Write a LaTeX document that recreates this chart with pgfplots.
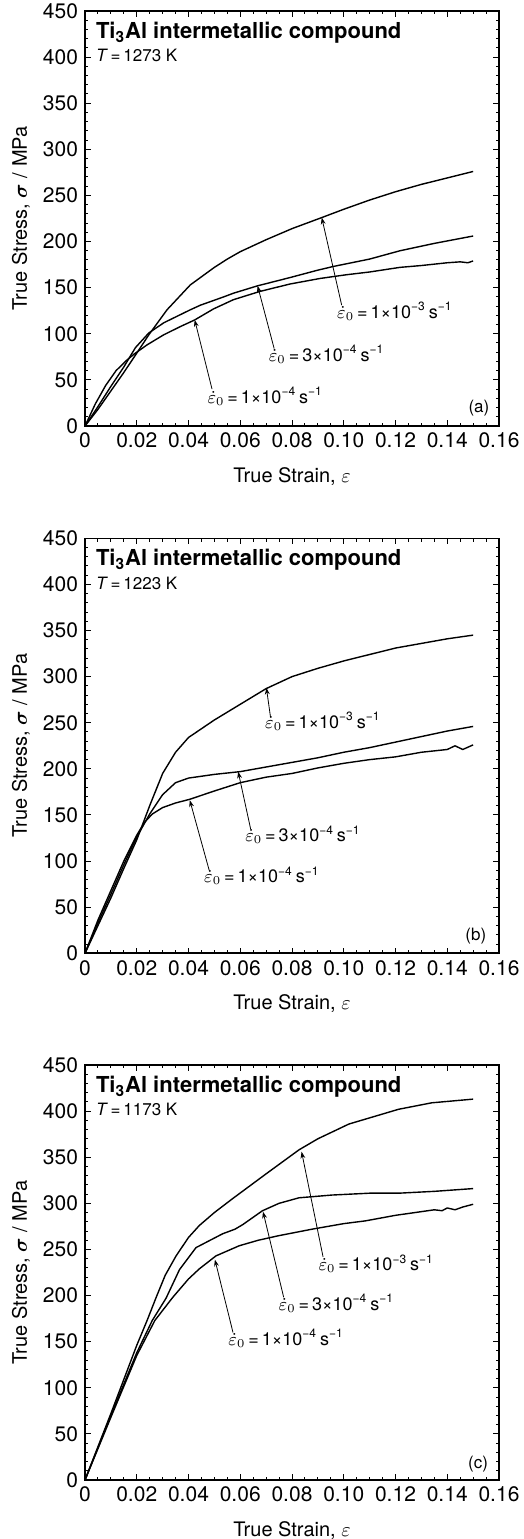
\documentclass[border=0pt]{standalone}
\usepackage{fontspec}
\setmainfont{TeX Gyre Heros}
\usepackage{amsmath}
\usepackage{pgfplots}
\pgfplotsset{compat=1.18}
\usetikzlibrary{arrows.meta}

\newcommand{\rate}[2]{$\dot{\varepsilon}_0$\,=\,#1×10\textsuperscript{−#2}\,s\textsuperscript{−1}}
\pgfplotsset{
  tsplot/.style={
    scale only axis, width=207pt, height=207.5pt, anchor=south west,
    xmin=0, xmax=0.16, ymin=0, ymax=450, clip=false,
    xtick={0,0.02,0.04,0.06,0.08,0.10,0.12,0.14,0.16},
    xticklabels={0,0.02,0.04,0.06,0.08,0.10,0.12,0.14,0.16},
    ytick={0,50,100,150,200,250,300,350,400,450},
    minor x tick num=3, minor y tick num=4,
    tick align=inside, major tick length=2.8pt, minor tick length=1.6pt,
    axis line style={line width=0.8pt},
    every tick/.style={black, line width=0.5pt},
    tick label style={font=\fontsize{10.5}{12}\selectfont},
    /pgf/number format/assume math mode=true,
    xlabel={True Strain, $\varepsilon$},
    ylabel={True Stress, $\boldsymbol{\sigma}$ / MPa},
    label style={font=\fontsize{10.5}{12}\selectfont},
    every axis x label/.style={at={(axis description cs:0.5,-0.121)},anchor=center},
    every axis y label/.style={at={(axis description cs:-0.155,0.5)},anchor=center,rotate=90},
    every axis plot post/.style={black, mark=none, line width=0.7pt, line join=round},
  },
}
\tikzset{
  arr/.style={-{Stealth[length=3.4pt,width=2.4pt]}, line width=0.4pt},
  ann/.style={font=\fontsize{9}{10}\selectfont, inner sep=0pt, anchor=base west},
  tit/.style={font=\bfseries\fontsize{11}{12}\selectfont, inner sep=0pt, anchor=base west},
  tmp/.style={font=\fontsize{8.5}{10}\selectfont, inner sep=0pt, anchor=base west},
  pl/.style={font=\fontsize{8.5}{10}\selectfont, inner sep=0pt, anchor=base east},
}

\begin{document}
\begin{tikzpicture}
\useasboundingbox (0,0) rectangle (262pt,769.5pt);

% ---------- (a) ----------
\begin{axis}[tsplot, at={(42.5pt,556.5pt)}]
\addplot coordinates {(0,0) (0.004,24) (0.008,44) (0.012,60) (0.016,71) (0.019,78) (0.024,88) (0.0305,99) (0.037,108) (0.0424,115) (0.0497,127) (0.0574,137) (0.0677,146) (0.0793,154) (0.0909,160) (0.101,164) (0.11,167) (0.1217,172) (0.13,174) (0.14,177) (0.145,178) (0.148,177) (0.15,179)};
\addplot coordinates {(0,0) (0.005,21) (0.01,43) (0.015,64) (0.0195,85) (0.0247,101) (0.0305,112) (0.0407,126) (0.0446,131) (0.0536,140) (0.0574,144) (0.0667,152) (0.0793,161) (0.09,169) (0.096,173) (0.11,181) (0.1217,190) (0.135,198) (0.15,206)};
\addplot coordinates {(0,0) (0.005,18) (0.01,38) (0.015,58) (0.02,79) (0.0247,99) (0.0317,126) (0.0407,153) (0.05,172) (0.055,181) (0.06,189) (0.07,202) (0.08,214) (0.0915,226) (0.1,235) (0.11,245) (0.12,254) (0.13,262) (0.14,269) (0.15,276)};
\node[tit] at (axis cs:0.0041,420) {Ti\textsubscript{3}Al intermetallic compound};
\node[tmp] at (axis cs:0.0041,395) {\textit{T}\,=\,1273 K};
\node[ann] at (axis cs:0.0973,117) {\rate{1}{3}};
\node[ann] at (axis cs:0.0709,70) {\rate{3}{4}};
\node[ann] at (axis cs:0.0472,24.7) {\rate{1}{4}};
\draw[arr] (axis cs:0.0992,131) -- (axis cs:0.0915,226);
\draw[arr] (axis cs:0.0731,84) -- (axis cs:0.0667,152);
\draw[arr] (axis cs:0.0491,40) -- (axis cs:0.0424,115);
\node[pl] at (axis cs:0.1564,14.5) {(a)};
\end{axis}

% ---------- (b) ----------
\begin{axis}[tsplot, at={(42.5pt,292.85pt)}]
\addplot coordinates {(0,0) (0.005,36) (0.01,68) (0.015,100) (0.02,128) (0.023,142) (0.026,151) (0.03,158) (0.035,163) (0.0405,167) (0.05,176) (0.06,185) (0.07,191) (0.08,195) (0.09,201) (0.1,206) (0.11,210) (0.12,213) (0.13,218) (0.14,221) (0.143,225) (0.146,221) (0.15,226)};
\addplot coordinates {(0,0) (0.005,33) (0.01,64) (0.015,96) (0.02,126) (0.025,151) (0.03,172) (0.035,185) (0.04,190) (0.05,194) (0.06,197) (0.07,202) (0.08,207) (0.09,212) (0.1,218) (0.11,223) (0.12,229) (0.13,235) (0.14,241) (0.15,246)};
\addplot coordinates {(0,0) (0.005,30) (0.01,60) (0.015,92) (0.02,123) (0.025,160) (0.03,195) (0.035,218) (0.04,234) (0.05,253) (0.06,270) (0.07,287) (0.08,300) (0.09,309) (0.1,317) (0.11,324) (0.12,331) (0.13,336) (0.14,341) (0.15,345)};
\node[tit] at (axis cs:0.0041,420) {Ti\textsubscript{3}Al intermetallic compound};
\node[tmp] at (axis cs:0.0041,395) {\textit{T}\,=\,1223 K};
\node[ann] at (axis cs:0.0695,243.6) {\rate{1}{3}};
\node[ann] at (axis cs:0.0618,121) {\rate{3}{4}};
\node[ann] at (axis cs:0.0459,76.5) {\rate{1}{4}};
\draw[arr] (axis cs:0.0717,256) -- (axis cs:0.0701,288);
\draw[arr] (axis cs:0.064,135) -- (axis cs:0.0592,197);
\draw[arr] (axis cs:0.048,90) -- (axis cs:0.0405,166);
\node[pl] at (axis cs:0.1552,13.7) {(b)};
\end{axis}

% ---------- (c) ----------
\begin{axis}[tsplot, at={(42.5pt,29.5pt)}]
\addplot coordinates {(0,0) (0.01,68) (0.02,135) (0.027,173) (0.0339,198) (0.04,218) (0.0442,229) (0.0506,243) (0.0596,254) (0.067,260) (0.075,265) (0.0878,272) (0.1,278) (0.1084,281) (0.12,287) (0.13,291) (0.135,293) (0.138,292) (0.14,295) (0.143,293) (0.146,296) (0.15,299)};
\addplot coordinates {(0,0) (0.01,70) (0.02,138) (0.026,173) (0.0313,197) (0.0365,228) (0.0429,252) (0.0532,267) (0.058,272) (0.061,277) (0.0686,292) (0.075,300) (0.0827,306) (0.0955,309) (0.11,311) (0.1212,311) (0.135,313) (0.15,316)};
\addplot coordinates {(0,0) (0.01,72) (0.02,146) (0.024,173) (0.0275,198) (0.031,222) (0.0352,243) (0.04,263) (0.0442,276) (0.05,290) (0.057,305) (0.07,332) (0.0827,358) (0.09,370) (0.102,386) (0.1212,402) (0.134,409) (0.15,413)};
\node[tit] at (axis cs:0.0041,420) {Ti\textsubscript{3}Al intermetallic compound};
\node[tmp] at (axis cs:0.0041,395) {\textit{T}\,=\,1173 K};
\node[ann] at (axis cs:0.0901,227) {\rate{1}{3}};
\node[ann] at (axis cs:0.0747,184) {\rate{3}{4}};
\node[ann] at (axis cs:0.0553,146) {\rate{1}{4}};
\draw[arr] (axis cs:0.092,242) -- (axis cs:0.0837,356);
\draw[arr] (axis cs:0.0768,198) -- (axis cs:0.0688,291);
\draw[arr] (axis cs:0.0572,160) -- (axis cs:0.0502,239);
\node[pl] at (axis cs:0.1559,12.6) {(c)};
\end{axis}
\end{tikzpicture}
\end{document}
